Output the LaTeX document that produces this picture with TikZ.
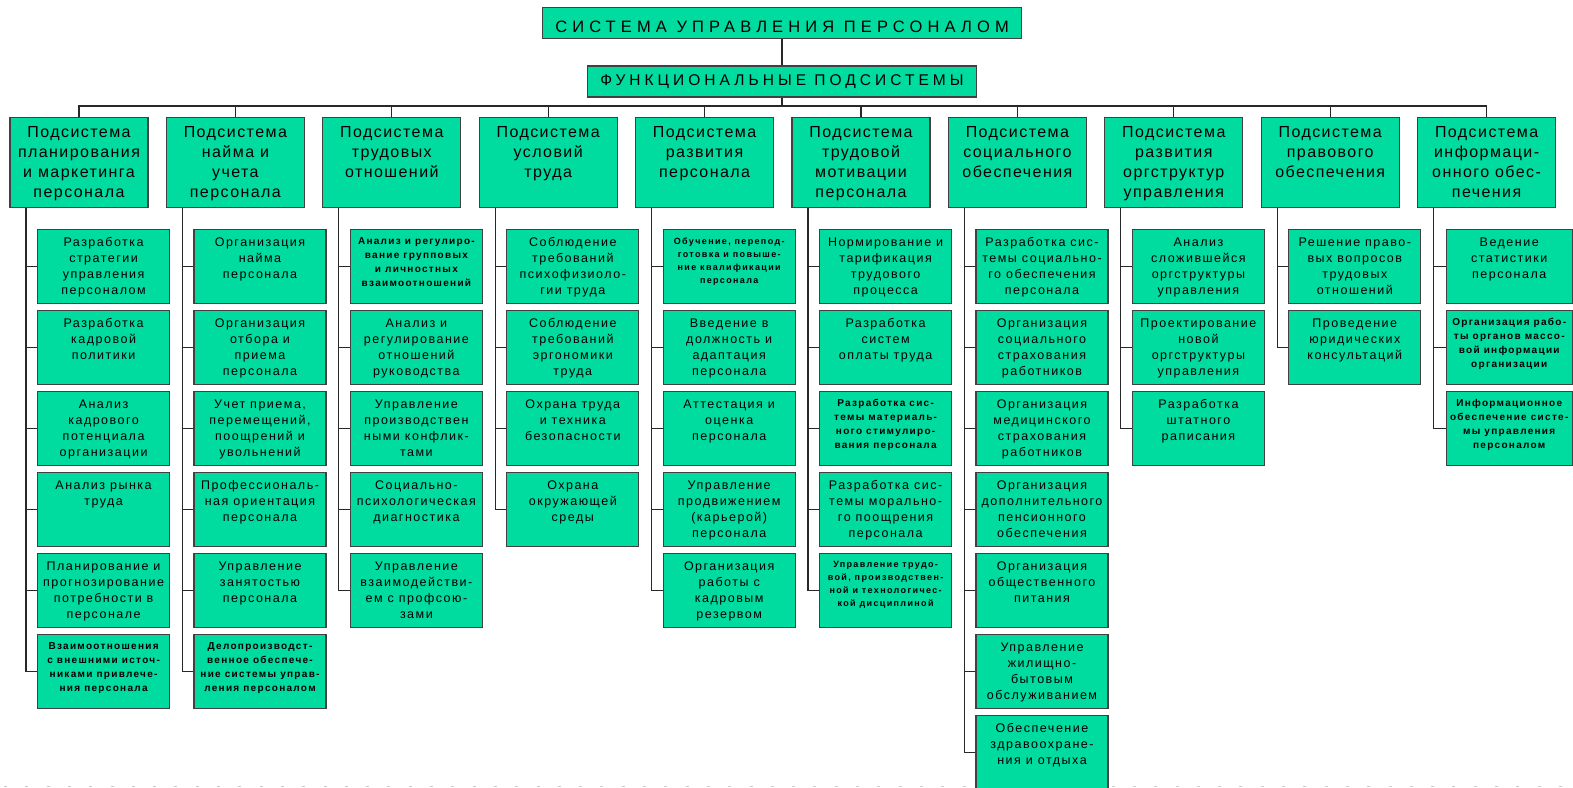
\documentclass[tikz,border=0pt]{standalone}
\usepackage{fontspec}
\setmainfont{Liberation Sans}

\definecolor{boxgreen}{RGB}{0,219,160}
\definecolor{edgegray}{RGB}{64,64,64}
\definecolor{wiregray}{RGB}{40,40,40}

\newcommand\titlefont{\fontsize{16.5}{20}\selectfont\addfontfeature{LetterSpace=31}}
\newcommand\fsfont{\fontsize{15.5}{19}\selectfont\addfontfeature{LetterSpace=26}}
\newcommand\subfont{\fontsize{16}{20}\selectfont\addfontfeature{LetterSpace=9}}
\newcommand\leaffont{\fontsize{12.5}{16}\selectfont\addfontfeature{LetterSpace=12}}
\newcommand\smallbold{\fontsize{10}{14}\bfseries\selectfont\addfontfeature{LetterSpace=13}}
\newcommand\tinybold{\fontsize{9}{13}\bfseries\selectfont\addfontfeature{LetterSpace=15}}
\newcommand\subtext[1]{\parbox[t][90pt][t]{138pt}{\centering\subfont\vspace*{8.5pt}#1}}
\newcommand\leaftext[2][132pt]{\parbox[t][74pt][t]{#1}{\centering\leaffont\vspace*{8pt}#2}}

\begin{document}
\begin{tikzpicture}[x=1pt, y=-1pt,
    wire/.style={draw=wiregray, line width=1.1pt},
    frame/.style={draw=edgegray, fill=boxgreen, line width=1.2pt, inner sep=0pt},
    titlebox/.style={frame, minimum height=31pt, font=\titlefont},
    subbox/.style={frame, anchor=north},
    leaf/.style={frame, anchor=north west}
  ]
  \useasboundingbox (0,0) rectangle (1573,787);
  \clip (0,0) rectangle (1573,787);
  \draw[gray!40, line width=0.8pt, dash pattern=on 3pt off 18.3pt] (4,786) -- (1573,786);

  % top of the tree
  \node[titlebox, minimum width=479pt, text height=18pt, text depth=0pt] (title) at (782,23) {СИСТЕМА УПРАВЛЕНИЯ ПЕРСОНАЛОМ};
  \node[titlebox, minimum width=389pt, font=\fsfont] (fs) at (782,81.5) {ФУНКЦИОНАЛЬНЫЕ ПОДСИСТЕМЫ};
  \coordinate (bus) at (782,106);

  % subsystems
  \node[subbox] (s1) at (79,117) {\subtext{Подсистема\\планирования\\и маркетинга\\персонала}};
  \node[subbox] (s2) at (235.4,117) {\subtext{Подсистема\\найма и\\учета\\персонала}};
  \node[subbox] (s3) at (391.8,117) {\subtext{Подсистема\\трудовых\\отношений}};
  \node[subbox] (s4) at (548.2,117) {\subtext{Подсистема\\условий\\труда}};
  \node[subbox] (s5) at (704.6,117) {\subtext{Подсистема\\развития\\персонала}};
  \node[subbox] (s6) at (861,117) {\subtext{Подсистема\\трудовой\\мотивации\\персонала}};
  \node[subbox] (s7) at (1017.4,117) {\subtext{Подсистема\\социального\\обеспечения}};
  \node[subbox] (s8) at (1173.8,117) {\subtext{Подсистема\\развития\\оргструктур\\управления}};
  \node[subbox] (s9) at (1330.2,117) {\subtext{Подсистема\\правового\\обеспечения}};
  \node[subbox] (s10) at (1486.6,117) {\subtext{Подсистема\\информаци-\\онного обес-\\печения}};

  % functions of each subsystem
  \foreach \t [count=\i] in {{Разработка\\стратегии\\управления\\персоналом},
      {Разработка\\кадровой\\политики},
      {Анализ\\кадрового\\потенциала\\организации},
      {Анализ рынка\\труда},
      {Планирование и\\прогнозирование\\потребности в\\персонале},
      {\smallbold Взаимоотношения\\с внешними источ-\\никами привлече-\\ния персонала}}
    \node[leaf] (s1-\i) at (37,{229+81*(\i-1)}) {\leaftext{\t}};
  \foreach \t [count=\i] in {{Организация\\найма\\персонала},
      {Организация\\отбора и\\приема\\персонала},
      {Учет приема,\\перемещений,\\поощрений и\\увольнений},
      {Профессиональ-\\ная ориентация\\персонала},
      {Управление\\занятостью\\персонала},
      {\smallbold Делопроизводст-\\венное обеспече-\\ние системы управ-\\ления персоналом}}
    \node[leaf] (s2-\i) at (193.4,{229+81*(\i-1)}) {\leaftext{\t}};
  \foreach \t [count=\i] in {{\smallbold Анализ и регулиро-\\вание групповых\\и личностных\\взаимоотношений},
      {Анализ и\\регулирование\\отношений\\руководства},
      {Управление\\производствен\\ными конфлик-\\тами},
      {Социально-\\психологическая\\диагностика},
      {Управление\\взаимодействи-\\ем с профсою-\\зами}}
    \node[leaf] (s3-\i) at (349.8,{229+81*(\i-1)}) {\leaftext{\t}};
  \foreach \t [count=\i] in {{Соблюдение\\требований\\психофизиоло-\\гии труда},
      {Соблюдение\\требований\\эргономики\\труда},
      {Охрана труда\\и техника\\безопасности},
      {Охрана\\окружающей\\среды}}
    \node[leaf] (s4-\i) at (506.2,{229+81*(\i-1)}) {\leaftext{\t}};
  \foreach \t [count=\i] in {{\tinybold Обучение, перепод-\\готовка и повыше-\\ние квалификации\\персонала},
      {Введение в\\должность и\\адаптация\\персонала},
      {Аттестация и\\оценка\\персонала},
      {Управление\\продвижением\\(карьерой)\\персонала},
      {Организация\\работы с\\кадровым\\резервом}}
    \node[leaf] (s5-\i) at (662.6,{229+81*(\i-1)}) {\leaftext{\t}};
  \foreach \t [count=\i] in {{Нормирование и\\тарификация\\трудового\\процесса},
      {Разработка\\систем\\оплаты труда},
      {\smallbold Разработка сис-\\темы материаль-\\ного стимулиро-\\вания персонала},
      {Разработка сис-\\темы морально-\\го поощрения\\персонала},
      {\tinybold Управление трудо-\\вой, производствен-\\ной и технологичес-\\кой дисциплиной}}
    \node[leaf] (s6-\i) at (819,{229+81*(\i-1)}) {\leaftext{\t}};
  \foreach \t [count=\i] in {{Разработка сис-\\темы социально-\\го обеспечения\\персонала},
      {Организация\\социального\\страхования\\работников},
      {Организация\\медицинского\\страхования\\работников},
      {Организация\\дополнительного\\пенсионного\\обеспечения},
      {Организация\\общественного\\питания},
      {Управление\\жилищно-\\бытовым\\обслуживанием},
      {Обеспечение\\здравоохране-\\ния и отдыха}}
    \node[leaf] (s7-\i) at (975.4,{229+81*(\i-1)}) {\leaftext{\t}};
  \foreach \t [count=\i] in {{Анализ\\сложившейся\\оргструктуры\\управления},
      {Проектирование\\новой\\оргструктуры\\управления},
      {Разработка\\штатного\\раписания}}
    \node[leaf] (s8-\i) at (1131.8,{229+81*(\i-1)}) {\leaftext{\t}};
  \foreach \t [count=\i] in {{Решение право-\\вых вопросов\\трудовых\\отношений},
      {Проведение\\юридических\\консультаций}}
    \node[leaf] (s9-\i) at (1288.2,{229+81*(\i-1)}) {\leaftext{\t}};
  \foreach \t [count=\i] in {{Ведение\\статистики\\персонала},
      {\smallbold Организация рабо-\\ты органов массо-\\вой информации\\организации},
      {\smallbold Информационное\\обеспечение систе-\\мы управления\\персоналом}}
    \node[leaf] (s10-\i) at (1445.6,{229+81*(\i-1)}) {\leaftext[126pt]{\t}};

  % connectors
  \draw[wire] (title.south) -- (fs.north);
  \draw[wire] (fs.south) -- (bus);
  \foreach \k in {1,...,10}
    \draw[wire] (s\k.north) |- (bus);
  \foreach \k/\n in {1/6,2/6,3/5,4/4,5/5,6/5,7/7,8/3,9/2,10/3}
    \foreach \i in {1,...,\n}
      \draw[wire] ([xshift=-53pt]s\k.south) |- (s\k-\i.west);
\end{tikzpicture}
\end{document}
